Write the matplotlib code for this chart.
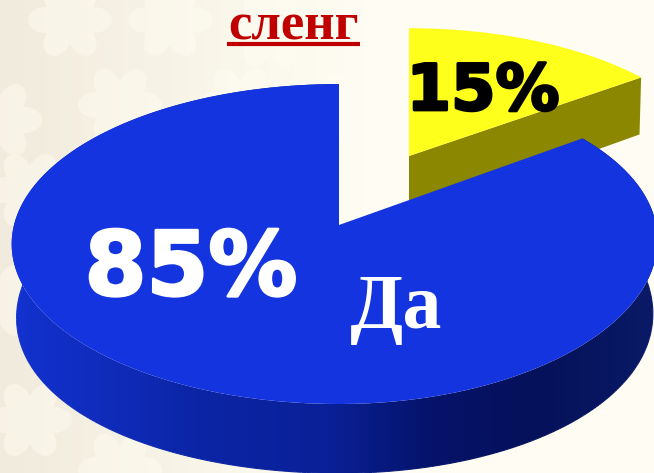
import numpy as np
import matplotlib
matplotlib.use('Agg')
import matplotlib.pyplot as plt
import matplotlib.patheffects as pe
from matplotlib.collections import LineCollection
from matplotlib.colors import LinearSegmentedColormap
from matplotlib.patches import Ellipse, Polygon

# data
slice_names = ['Да', 'Нет']
slice_values = [85, 15]
slice_labels = ['85%', '15%']
title_text = 'сленг'

W, H = 654, 473
fig = plt.figure(figsize=(W / 100, H / 100), dpi=100)
ax = fig.add_axes([0, 0, 1, 1])
ax.set_xlim(0, W)
ax.set_ylim(H, 0)
ax.axis('off')


def background():
    base = np.zeros((2, 2, 3))
    base[:] = np.array([236, 230, 214]) / 255
    ax.imshow(base, extent=[0, W, H, 0], aspect='auto', zorder=0)
    # faint damask pattern
    light = '#f5f0e2'
    for cx, cy in [(70, 20), (170, 20), (120, 105), (0, 120), (240, 105), (30, 190), (110, 300),
                   (30, 420), (120, 470), (0, 300), (270, 30), (350, 110)]:
        for a in np.radians(np.arange(0, 360, 60)):
            ax.add_patch(Ellipse((cx + 24 * np.cos(a), cy + 22 * np.sin(a)), 36, 26,
                                 angle=np.degrees(a), color=light, lw=0, zorder=1))
        ax.add_patch(Ellipse((cx, cy), 30, 30, color=light, lw=0, zorder=1))
    # fades into cream on the right
    xx, yy = np.meshgrid(np.linspace(0, 1, 200), np.linspace(0, 1, 150))
    fade = np.zeros((150, 200, 4))
    fade[..., :3] = np.array([255, 253, 243]) / 255
    fade[..., 3] = np.clip(0.22 + 1.4 * xx, 0, 1)
    ax.imshow(fade, extent=[0, W, H, 0], aspect='auto', zorder=2)
    ax.set_xlim(0, W)
    ax.set_ylim(H, 0)


def project(theta, r, x0, y0, a, b, k=0.119, depth=0.0, shrink=1.0):
    # perspective view of the pie plane
    px = r * np.sin(theta)
    py = r * np.cos(theta)
    w = 1 + k * py
    return x0 + a * shrink * px / w, y0 - b * py / w + depth / w


background()

fractions = np.array(slice_values) / sum(slice_values)
yes_sweep = 2 * np.pi * fractions[0]
no_sweep = 2 * np.pi * fractions[1]

# small slice, pulled out to the back
no_t = np.linspace(0, no_sweep, 80)
no_kw = dict(x0=409, y0=156, a=307, b=143)
nx, ny = project(no_t, 1, **no_kw)
ax0, ay0 = project(0.0, 0, **no_kw)
bx0, by0 = project(np.array([0.0, no_sweep]), np.array([0, 1]), depth=61, shrink=0.993, **no_kw)
ex, ey = project(no_sweep, 1, **no_kw)
ax.fill([ax0, ex, bx0[1], bx0[0]], [ay0, ey, by0[1], by0[0]], color='#8b8700', lw=0, zorder=3)
ax.fill(np.r_[ax0, nx], np.r_[ay0, ny], color='#ffff1c', lw=0, zorder=4)

# big slice, right side a bit narrower than the left
yes_t = np.linspace(no_sweep, no_sweep + yes_sweep, 400)
yes_a = np.where(np.sin(yes_t) > 0, 322 - 8 * np.maximum(0, 0.6 - np.cos(yes_t)), 325)
yes_kw = dict(x0=339, y0=225, a=yes_a, b=157.7)
tx, ty = project(yes_t, 1, **yes_kw)
sx, sy = project(yes_t, 1, depth=61 + 12 * np.sin(yes_t) ** 2, shrink=0.985, **yes_kw)
side = LinearSegmentedColormap.from_list('side', [(0, '#1333d2'), (0.3, '#0c25a6'), (0.5, '#0a2098'),
                                                  (0.66, '#05136a'), (0.82, '#05115a'), (1, '#0a1a66')])
rim = Polygon(np.c_[np.r_[tx, sx[::-1]], np.r_[ty, sy[::-1]]], closed=True, transform=ax.transData)
ramp = np.linspace(0, 1, 300).reshape(1, -1)
img = ax.imshow(ramp, cmap=side, extent=[0, W, H, 0], aspect='auto', zorder=5)
img.set_clip_path(rim)
edge = np.c_[sx, sy]
segs = np.stack([edge[:-1], edge[1:]], axis=1)
ax.add_collection(LineCollection(segs, colors=side(np.clip(sx[:-1] / W, 0, 1)), lw=0.8, zorder=5))
ax.set_xlim(0, W)
ax.set_ylim(H, 0)
ax.fill(np.r_[339, tx], np.r_[225, ty], color='#1434e0', lw=0, zorder=6)

# texts
ax.text(293.5, 39, title_text, family='Liberation Serif', weight='bold', fontsize=38,
        color='#c00000', ha='center', va='baseline', zorder=8)
ax.plot([227, 360], [44.5, 44.5], color='#c00000', lw=3, solid_capstyle='butt', zorder=8)

heavy = [pe.withStroke(linewidth=2, foreground='white')]
ax.text(191, 295, slice_labels[0], family='DejaVu Sans', weight='bold', fontsize=64, color='white',
        ha='center', va='baseline', path_effects=heavy, zorder=8)
ax.text(483, 110, slice_labels[1], family='DejaVu Sans', weight='bold', fontsize=46, color='black',
        ha='center', va='baseline', path_effects=[pe.withStroke(linewidth=2, foreground='black')], zorder=8)
ax.text(396, 328, slice_names[0], family='Liberation Serif', weight='bold', fontsize=56, color='white',
        ha='center', va='baseline', zorder=8)

fig.savefig('out.png', dpi=100)
